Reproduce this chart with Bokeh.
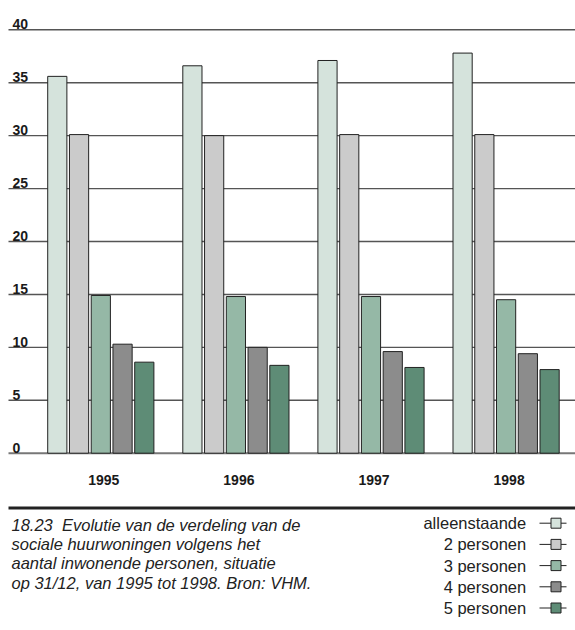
from bokeh.plotting import figure
from bokeh.models import ColumnDataSource, Range1d
from bokeh.transform import dodge
from bokeh.core.properties import value
from bokeh.embed import file_html
from bokeh.resources import INLINE

# ---- data ----
years = ["1995", "1996", "1997", "1998"]
series_names = ["alleenstaande", "2 personen", "3 personen", "4 personen", "5 personen"]
alleenstaande = [35.6, 36.6, 37.1, 37.8]
personen_2 = [30.1, 30.0, 30.1, 30.1]
personen_3 = [14.9, 14.8, 14.8, 14.5]
personen_4 = [10.3, 10.0, 9.6, 9.4]
personen_5 = [8.6, 8.3, 8.1, 7.9]
y_ticks = [0, 5, 10, 15, 20, 25, 30, 35, 40]
caption_lines = [
    "18.23\u00a0 Evolutie van de verdeling van de",
    "sociale huurwoningen volgens het",
    "aantal inwonende personen, situatie",
    "op 31/12, van 1995 tot 1998. Bron: VHM.",
]

series_values = [alleenstaande, personen_2, personen_3, personen_4, personen_5]
colors = ["#d5e3dc", "#cbcbcb", "#95b8a6", "#8c8c8c", "#5e8c76"]

FONT = "Liberation Sans"
TXT = "#222222"

# ---- layout geometry (pixels -> data) ----
W, H = 575, 622
X0, DX = 100.3, 135.1     # pixel x of first group centre, pixels per group
Y0, DY = 452.7, 10.585    # pixel y of value 0, pixels per unit


def px(xp):
    return (xp - X0) / DX


def py(yp):
    return (Y0 - yp) / DY


p = figure(width=W, height=H, output_backend="svg", toolbar_location=None,
           x_range=Range1d(px(0), px(W)), y_range=Range1d(py(H), py(0)),
           min_border_left=0, min_border_right=0, min_border_top=0, min_border_bottom=0,
           x_axis_location=None, y_axis_location=None)
p.outline_line_color = None
p.xgrid.grid_line_color = None
p.ygrid.grid_line_color = None

# horizontal grid lines
grid_vals = [t for t in y_ticks if t > 0]
p.segment(x0=[px(8)] * len(grid_vals), x1=[px(W)] * len(grid_vals), y0=grid_vals, y1=grid_vals,
          line_color="#555555", line_width=1.4)
# base line
p.segment(x0=[px(8)], x1=[px(W)], y0=[0], y1=[0], line_color="#777777", line_width=2)

# bars
src = ColumnDataSource(dict(x=list(range(len(years))),
                            **{f"s{k}": v for k, v in enumerate(series_values)}))
step = 0.161
for k, name in enumerate(series_names):
    p.vbar(x=dodge("x", (k - 2) * step, range=p.x_range), top=f"s{k}", width=0.142,
           source=src, fill_color=colors[k], line_color="#222222", line_width=1)

# y tick labels (above grid lines)
p.text(x=[px(12)] * len(y_ticks), y=y_ticks, text=[str(t) for t in y_ticks],
       y_offset=-5.5, text_baseline="alphabetic", text_align="left",
       text_font=value(FONT), text_font_style="bold", text_font_size="14px",
       text_color="#1a1a1a")

# category labels
p.text(x=list(range(len(years))), y=[py(479)] * len(years), text=years,
       x_offset=3, text_baseline="middle", text_align="center",
       text_font=value(FONT), text_font_style="bold", text_font_size="14px",
       text_color="#1a1a1a")

# separator line
p.segment(x0=[px(8)], x1=[px(W)], y0=[py(507.5)], y1=[py(507.5)],
          line_color="#222222", line_width=3)

# caption
p.text(x=[px(11)] * len(caption_lines),
       y=[py(524 + i * 19.4) for i in range(len(caption_lines))],
       text=caption_lines, text_baseline="middle", text_align="left",
       text_font=value(FONT), text_font_style="italic", text_font_size="16.5px",
       text_color=TXT)

# legend
ly = [py(522.7 + i * 21.2) for i in range(len(series_names))]
p.text(x=[px(525.7)] * len(series_names), y=ly, text=series_names,
       text_baseline="middle", text_align="right",
       text_font=value(FONT), text_font_size="16.5px", text_color=TXT)
p.segment(x0=[px(539)] * len(ly), y0=ly, x1=[px(566)] * len(ly), y1=ly,
          line_color="#222222", line_width=1)
p.scatter(x=[px(555.5)] * len(ly), y=ly, marker="square", size=10,
          fill_color=colors, line_color="#222222", line_width=1)

open("out.html", "w").write(file_html(p, INLINE))
